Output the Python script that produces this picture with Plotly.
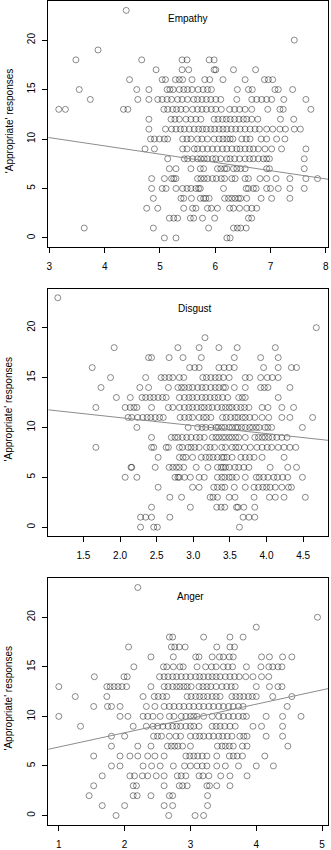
import plotly.graph_objects as go

# Number of 'appropriate' responses (keys) and each participant's scale score (values)
empathy_scores = {
    23: [4.39],
    20: [7.43],
    19: [3.88],
    18: [3.48, 4.67, 5.40, 5.49, 5.89, 5.98],
    17: [4.93, 5.40, 5.52, 5.98, 6.01, 6.33, 6.73],
    16: [4.45, 5.04, 5.10, 5.28, 5.35, 5.41, 5.58, 5.81, 5.90, 6.14, 6.54, 6.89, 6.96, 7.04],
    15: [3.54, 4.58, 4.80, 5.13, 5.18, 5.24, 5.35, 5.43, 5.50, 5.58, 5.69, 5.78, 5.86, 5.93,
         6.40, 6.60, 6.67, 7.08, 7.14, 7.40],
    14: [3.74, 4.60, 4.80, 4.96, 5.04, 5.13, 5.21, 5.32, 5.40, 5.50, 5.61, 5.68, 5.76, 5.84,
         5.92, 6.01, 6.10, 6.39, 6.66, 6.75, 6.84, 6.93, 7.02, 7.24, 7.64],
    13: [3.17, 3.29, 4.34, 4.42, 5.07, 5.14, 5.23, 5.30, 5.38, 5.47, 5.59, 5.68, 5.76, 5.84,
         5.93, 6.01, 6.11, 6.26, 6.35, 6.44, 6.54, 6.66, 6.95, 7.17, 7.23, 7.73],
    12: [4.80, 5.20, 5.27, 5.35, 5.47, 5.56, 5.65, 5.74, 5.98, 6.05, 6.13, 6.20, 6.27, 6.35,
         6.43, 6.51, 6.57, 6.66, 6.77, 7.18, 7.42],
    11: [4.80, 5.10, 5.21, 5.29, 5.37, 5.44, 5.53, 5.62, 5.70, 5.77, 5.84, 5.92, 5.99, 6.07,
         6.14, 6.21, 6.29, 6.37, 6.45, 6.54, 6.63, 6.72, 6.80, 6.93, 7.04, 7.17, 7.27, 7.43, 7.54],
    10: [4.83, 4.90, 4.99, 5.08, 5.14, 5.41, 5.49, 5.56, 5.68, 5.76, 5.86, 5.98, 6.07, 6.14,
         6.21, 6.27, 6.32, 6.48, 6.56, 6.63, 6.83, 6.93, 7.11, 7.26],
    9: [4.73, 4.90, 5.41, 5.49, 5.62, 5.68, 5.77, 5.86, 5.95, 6.04, 6.13, 6.21, 6.30, 6.39,
        6.45, 6.54, 6.62, 6.69, 6.78, 6.90, 7.02, 7.20, 7.64],
    8: [5.14, 5.44, 5.50, 5.59, 5.68, 5.74, 5.80, 5.86, 5.95, 6.01, 6.10, 6.21, 6.27, 6.35,
        6.44, 6.54, 6.62, 6.69, 6.78, 6.87, 6.93, 6.98, 7.61],
    7: [5.17, 5.29, 5.56, 5.73, 5.79, 6.04, 6.10, 6.17, 6.21, 6.33, 6.39, 6.46, 6.54, 6.93,
        6.98, 7.61],
    6: [4.85, 5.08, 5.21, 5.25, 5.29, 5.68, 5.74, 5.80, 5.86, 5.95, 6.02, 6.11, 6.17, 6.30,
        6.36, 6.54, 6.60, 6.81, 6.93, 7.10, 7.35, 7.64, 7.85],
    5: [4.85, 5.04, 5.11, 5.29, 5.41, 5.49, 5.56, 5.65, 5.70, 5.73, 6.15, 6.56, 6.60, 6.69,
        6.74, 6.93, 7.00, 7.14, 7.35, 7.61],
    4: [4.88, 5.38, 5.43, 5.57, 5.73, 5.79, 5.83, 5.89, 6.17, 6.24, 6.30, 6.36, 6.42, 6.46,
        6.57, 6.83, 7.02, 7.35],
    3: [4.76, 4.96, 5.43, 5.59, 5.65, 5.86, 5.93, 6.04, 6.26, 6.33, 6.44, 6.57, 6.66, 6.75],
    2: [5.17, 5.25, 5.32, 5.55, 5.61, 5.77, 5.99, 6.60, 6.66],
    1: [3.63, 4.88, 5.88, 6.33, 6.40, 6.46, 6.56],
    0: [5.08, 5.29, 6.21, 6.27],
}

disgust_scores = {
    23: [1.15],
    20: [4.68],
    19: [3.16],
    18: [1.92, 2.79, 3.08, 3.35, 3.60, 4.12],
    17: [2.39, 2.43, 2.67, 2.86, 3.11, 3.56, 3.92, 4.16],
    16: [1.62, 2.95, 3.02, 3.08, 3.35, 3.42, 3.49, 3.56, 3.96, 4.16, 4.34, 4.41],
    15: [1.87, 2.35, 2.56, 2.61, 2.67, 2.72, 2.81, 2.87, 3.13, 3.18, 3.24, 3.30, 3.35, 3.41,
         3.49, 3.71, 3.77, 3.92, 4.01, 4.08, 4.16],
    14: [1.74, 2.27, 2.39, 2.66, 2.79, 2.84, 2.88, 2.94, 2.99, 3.06, 3.12, 3.17, 3.24, 3.30,
         3.35, 3.41, 3.44, 3.56, 3.71, 3.92, 3.97, 4.02, 4.32],
    13: [1.95, 2.14, 2.30, 2.35, 2.41, 2.46, 2.52, 2.58, 2.63, 2.81, 2.88, 2.94, 2.99, 3.05,
         3.12, 3.17, 3.23, 3.29, 3.34, 3.40, 3.47, 3.62, 3.67, 3.71, 4.16],
    12: [1.67, 2.07, 2.14, 2.19, 2.23, 2.43, 2.66, 2.72, 2.81, 2.88, 2.94, 2.99, 3.05, 3.11,
         3.15, 3.21, 3.26, 3.33, 3.39, 3.44, 3.49, 3.53, 3.59, 3.65, 3.70, 3.76, 3.94, 4.02,
         4.21, 4.37],
    11: [2.11, 2.16, 2.24, 2.31, 2.37, 2.42, 2.48, 2.54, 2.59, 2.82, 2.88, 2.94, 2.99, 3.08,
         3.14, 3.18, 3.24, 3.40, 3.45, 3.51, 3.57, 3.61, 3.67, 3.71, 3.77, 3.84, 3.94, 4.03,
         4.21, 4.32, 4.63],
    10: [2.23, 2.93, 3.06, 3.12, 3.17, 3.24, 3.31, 3.34, 3.39, 3.43, 3.49, 3.53, 3.58, 3.61,
         3.66, 3.71, 3.77, 3.81, 3.86, 3.90, 3.98, 4.02, 4.07, 4.49],
    9: [2.43, 2.70, 2.75, 2.79, 2.85, 2.91, 2.97, 3.04, 3.09, 3.15, 3.26, 3.31, 3.35, 3.40,
        3.44, 3.49, 3.53, 3.58, 3.62, 3.71, 3.84, 3.89, 3.94, 3.98, 4.03, 4.08, 4.14, 4.21, 4.28],
    8: [1.67, 2.43, 2.46, 2.63, 2.66, 2.81, 2.85, 2.93, 2.97, 3.02, 3.08, 3.18, 3.23, 3.29,
        3.39, 3.44, 3.53, 3.58, 3.62, 3.70, 3.78, 3.87, 3.94, 4.01, 4.07, 4.16, 4.24, 4.32, 4.40],
    7: [2.52, 2.81, 2.86, 2.90, 2.99, 3.11, 3.17, 3.22, 3.27, 3.33, 3.39, 3.42, 3.46, 3.53,
        3.65, 3.71, 3.77, 3.83, 3.94, 4.24],
    6: [2.15, 2.16, 2.48, 2.67, 2.72, 2.77, 2.81, 2.87, 3.04, 3.20, 3.33, 3.38, 3.41, 3.44,
        3.49, 3.57, 3.62, 3.69, 3.76, 4.05, 4.29, 4.41],
    5: [2.07, 2.23, 2.75, 2.79, 2.81, 2.88, 2.96, 3.08, 3.15, 3.33, 3.39, 3.43, 3.49, 3.53,
        3.59, 3.71, 3.86, 3.90, 3.96, 4.02, 4.10, 4.15, 4.22, 4.29, 4.49],
    4: [2.52, 2.99, 3.08, 3.28, 3.33, 3.39, 3.43, 3.56, 3.71, 3.83, 3.89, 3.95, 4.00, 4.05,
        4.12, 4.21, 4.30, 4.34],
    3: [2.68, 2.84, 3.23, 3.27, 3.33, 3.49, 3.57, 3.83, 4.04, 4.12, 4.24, 4.53],
    2: [2.43, 2.96, 3.32, 3.38, 3.43, 3.59, 3.61, 3.69, 3.84],
    1: [2.28, 2.35, 2.43, 2.68, 3.68, 3.76, 3.84],
    0: [2.28, 2.46, 2.51, 3.63],
}

anger_scores = {
    23: [2.20],
    20: [4.93],
    19: [4.00],
    18: [2.68, 2.73, 3.20, 3.60, 3.80],
    17: [2.06, 2.71, 2.76, 2.83, 2.92, 3.40, 3.60, 3.67],
    16: [2.40, 2.74, 3.08, 3.13, 3.33, 3.44, 3.50, 3.59, 3.65, 4.08, 4.20, 4.40, 4.54],
    15: [2.14, 2.59, 2.64, 2.74, 2.84, 2.89, 3.10, 3.23, 3.32, 3.39, 3.50, 3.57, 3.64, 3.85,
         4.07, 4.19, 4.25, 4.33, 4.39],
    14: [1.54, 1.99, 2.04, 2.53, 2.60, 2.66, 2.73, 2.79, 2.86, 2.93, 3.00, 3.08, 3.14, 3.20,
         3.27, 3.33, 3.39, 3.45, 3.53, 3.60, 3.67, 3.74, 3.84, 3.95, 4.08, 4.19],
    13: [1.00, 1.73, 1.78, 1.84, 1.90, 1.96, 2.03, 2.40, 2.60, 2.66, 2.73, 2.79, 2.84, 2.90,
         2.95, 3.01, 3.13, 3.19, 3.25, 3.31, 3.39, 3.48, 3.55, 3.62, 3.68, 4.00, 4.20, 4.33, 4.39],
    12: [1.25, 1.73, 2.28, 2.45, 2.51, 2.58, 2.64, 2.95, 3.01, 3.08, 3.14, 3.20, 3.26, 3.33,
         3.39, 3.45, 3.63, 3.69, 3.75, 3.81, 3.88, 3.94, 4.00, 4.25, 4.54],
    11: [1.53, 1.74, 1.80, 1.93, 2.33, 2.46, 2.60, 2.68, 2.75, 2.83, 2.90, 2.98, 3.05, 3.13,
         3.20, 3.28, 3.35, 3.43, 3.50, 3.58, 3.65, 3.73, 3.80, 4.47],
    10: [1.00, 1.93, 2.05, 2.28, 2.35, 2.43, 2.54, 2.68, 2.75, 2.86, 2.93, 3.00, 3.05, 3.10,
         3.20, 3.33, 3.43, 3.50, 3.58, 3.65, 3.73, 3.80, 3.85, 4.15, 4.40, 4.68],
    9: [1.33, 2.13, 2.33, 2.43, 2.50, 2.58, 2.66, 2.73, 2.79, 2.85, 2.93, 3.00, 3.05, 3.13,
        3.33, 3.39, 3.45, 3.52, 3.60, 3.68, 3.95, 4.08, 4.40],
    8: [1.80, 2.00, 2.44, 2.50, 2.56, 2.68, 2.78, 2.85, 3.00, 3.08, 3.14, 3.20, 3.28, 3.35,
        3.43, 3.49, 3.56, 3.63, 3.75, 3.81, 3.86, 4.15, 4.40],
    7: [1.80, 2.20, 2.40, 2.65, 2.71, 2.76, 2.81, 2.88, 3.00, 3.41, 3.48, 3.53, 3.59, 3.65,
        3.79, 3.86, 4.48],
    6: [1.53, 1.93, 2.08, 2.20, 2.35, 2.46, 2.60, 2.93, 2.99, 3.05, 3.11, 3.18, 3.25, 3.40,
        3.59, 3.65, 3.71, 3.79, 4.13],
    5: [1.80, 1.93, 2.28, 2.41, 2.54, 2.74, 2.91, 3.00, 3.10, 3.18, 3.25, 3.40, 3.53, 3.73,
        4.00, 4.26],
    4: [1.66, 2.08, 2.15, 2.27, 2.35, 2.48, 2.60, 2.80, 2.86, 2.93, 3.13, 3.19, 3.28, 3.46,
        3.60, 3.86],
    3: [1.53, 2.13, 2.18, 2.60, 2.83, 2.88, 2.95, 3.25, 3.29, 3.40, 3.60],
    2: [1.46, 2.13, 2.19, 2.40, 2.68, 2.73, 3.26],
    1: [1.66, 2.00, 2.60, 2.73, 3.26],
    0: [1.87, 2.67, 3.07, 3.20],
}

panel_titles = ["Empathy", "Disgust", "Anger"]
y_title = "'Appropriate' responses"

# Fitted regression lines (intercept, slope)
fit_intercepts = [12.64, 12.58, 5.47]
fit_slopes = [-0.834, -0.80, 1.44]

x_ranges = [[2.98, 8.04], [1.02, 4.84], [0.84, 5.09]]
x_tickvals = [[3, 4, 5, 6, 7, 8], [1.5, 2.0, 2.5, 3.0, 3.5, 4.0, 4.5], [1, 2, 3, 4, 5]]
x_ticktext = [["3", "4", "5", "6", "7", "8"],
              ["1.5", "2.0", "2.5", "3.0", "3.5", "4.0", "4.5"],
              ["1", "2", "3", "4", "5"]]
y_range = [-0.92, 23.92]
y_tickvals = [0, 5, 10, 15, 20]

W, H = 331, 850
FONT = "Liberation Sans, Arial, sans-serif"

# Panel plot areas in pixels (top, bottom) and horizontal extent
panel_px = [(0.3, 247.5), (289.3, 538.5), (580.8, 828.5)]
x_px = (46.7, 329.0)
title_pos = [(0.497, 0.928), (0.525, 0.92), (0.508, 0.926)]

fig = go.Figure()
annotations = []
layout = {}

for i, scores in enumerate([empathy_scores, disgust_scores, anger_scores]):
    xs, ys = [], []
    for resp, vals in scores.items():
        xs.extend(vals)
        ys.extend([resp] * len(vals))
    sfx = "" if i == 0 else str(i + 1)
    xa, ya = "x" + sfx, "y" + sfx

    fig.add_trace(go.Scatter(
        x=xs, y=ys, mode="markers", xaxis=xa, yaxis=ya, showlegend=False,
        marker=dict(symbol="circle-open", size=6, color="rgba(0,0,0,0.45)",
                    line=dict(width=1)),
        hoverinfo="skip",
    ))
    x0, x1 = x_ranges[i]
    fig.add_trace(go.Scatter(
        x=[x0, x1],
        y=[fit_intercepts[i] + fit_slopes[i] * x0, fit_intercepts[i] + fit_slopes[i] * x1],
        mode="lines", xaxis=xa, yaxis=ya, showlegend=False,
        line=dict(color="#8c8c8c", width=1), hoverinfo="skip",
    ))

    top, bot = panel_px[i]
    ydom = [1 - bot / H, 1 - top / H]
    axis_common = dict(showline=True, mirror=True, linecolor="black", linewidth=1,
                       showgrid=False, zeroline=False, ticks="outside", ticklen=5,
                       tickwidth=1, tickcolor="black",
                       tickfont=dict(family=FONT, size=10, color="black"))
    layout["xaxis" + sfx] = dict(
        domain=[x_px[0] / W, x_px[1] / W], range=x_ranges[i], anchor=ya,
        tickvals=x_tickvals[i], ticktext=x_ticktext[i], ticklabelstandoff=5,
        **axis_common)
    layout["yaxis" + sfx] = dict(
        domain=ydom, range=y_range, anchor=xa, tickvals=y_tickvals,
        tickangle=-90, ticklabelstandoff=3, **axis_common)

    annotations.append(dict(
        text=panel_titles[i], xref=xa + " domain", yref=ya + " domain",
        x=title_pos[i][0], y=title_pos[i][1], showarrow=False,
        xanchor="center", yanchor="middle",
        font=dict(family=FONT, size=10, color="black")))
    annotations.append(dict(
        text=y_title, xref="paper", yref="paper", x=7 / W,
        y=(ydom[0] + ydom[1]) / 2 + 3 / H, textangle=-90, showarrow=False,
        xanchor="center", yanchor="middle",
        font=dict(family=FONT, size=10, color="black")))

fig.update_layout(
    width=W, height=H, margin=dict(l=0, r=0, t=0, b=0),
    paper_bgcolor="white", plot_bgcolor="white",
    annotations=annotations, **layout,
)

fig.write_html("out.html")
